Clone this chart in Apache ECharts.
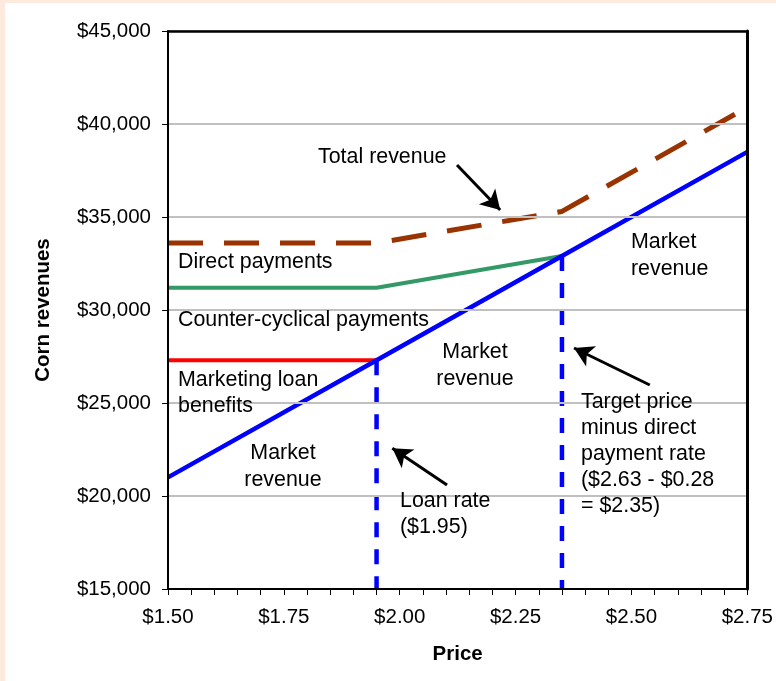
<!DOCTYPE html>
<html>
<head>
<meta charset="utf-8">
<script src="https://cdn.jsdelivr.net/npm/echarts@6/dist/echarts.min.js"></script>
<style>
  html, body { margin: 0; padding: 0; background: #fde9dd; }
  #chart { position: absolute; left: 5px; top: 3px; width: 771px; height: 678px; background: #ffffff; }
</style>
</head>
<body>
<div id="chart"></div>
<script>
// ---- Data (price in $/bu, revenue in $) ----
const marketPrices = [1.50, 1.95, 2.35, 2.75];
const marketRevenue = [21000, 27300, 32900, 38500];

const loanPrices = [1.50, 1.95];
const loanRevenue = [27300, 27300];

const ccpPrices = [1.50, 1.95, 2.35];
const ccpRevenue = [31200, 31200, 32900];

const totalPrices = [1.50, 1.95, 2.35, 2.75];
const totalRevenue = [33600, 33600, 35300, 40900];

const loanRateLine = [[1.95, 27300], [1.95, 15000]];
const targetLine = [[2.35, 32900], [2.35, 15000]];

// arrows: [tail, tip] in data coords
const arrowTotal = [[2.1235, 37795], [2.2167, 35376]];
const arrowLoan = [[2.102, 20591], [1.984, 22565]];
const arrowTarget = [[2.5395, 25968], [2.376, 27957]];

const xTicks = { min: 1.50, max: 2.75, step: 0.25 };
const yTicks = { min: 15000, max: 45000, step: 5000 };

function zip(xs, ys) { return xs.map((x, i) => [x, ys[i]]); }
function money(v) { return '$' + String(Math.round(v)).replace(/\B(?=(\d{3})+(?!\d))/g, ','); }

const FONT = '"Liberation Sans", Arial, sans-serif';
const OX = 5, OY = 3;

const chart = echarts.init(document.getElementById('chart'), null, { renderer: 'canvas' });

function arrowML(a) {
  return [{ coord: a[0] }, { coord: a[1] }];
}

const option = {
  animation: false,
  backgroundColor: '#ffffff',
  grid: { left: 163, right: 26, top: 28, bottom: 92, show: false },
  xAxis: [{
    type: 'value', min: xTicks.min, max: xTicks.max, interval: xTicks.step,
    name: 'Price', nameLocation: 'middle', nameGap: 55,
    nameTextStyle: { fontFamily: FONT, fontSize: 20.5, fontWeight: 'bold', color: '#000' },
    axisLine: { show: true, lineStyle: { color: '#000', width: 2 } },
    axisTick: { show: true, inside: false, length: 6, lineStyle: { color: '#000', width: 1 } },
    minorTick: { show: true, splitNumber: 5, length: 6, lineStyle: { color: '#000', width: 1 } },
    axisLabel: { fontFamily: FONT, fontSize: 20.5, color: '#000', margin: 18, formatter: v => '$' + v.toFixed(2) },
    splitLine: { show: false }, z: 5
  }, {
    type: 'value', position: 'top', min: xTicks.min, max: xTicks.max, interval: xTicks.step,
    axisLine: { show: true, onZero: false, lineStyle: { color: '#000', width: 2.5 } },
    axisTick: { show: false }, axisLabel: { show: false }, splitLine: { show: false }, z: 5
  }],
  yAxis: [{
    type: 'value', min: yTicks.min, max: yTicks.max, interval: yTicks.step,
    name: 'Corn revenues', nameLocation: 'middle', nameGap: 114,
    nameTextStyle: { fontFamily: FONT, fontSize: 20.5, fontWeight: 'bold', color: '#000' },
    axisLine: { show: true, lineStyle: { color: '#000', width: 2 } },
    axisTick: { show: true, inside: false, length: 6, lineStyle: { color: '#000', width: 1 } },
    axisLabel: { fontFamily: FONT, fontSize: 20.5, color: '#000', margin: 17, formatter: v => money(v) },
    splitLine: { show: true, lineStyle: { color: '#c0c0c0', width: 2 } }, z: 5
  }, {
    type: 'value', position: 'right', min: yTicks.min, max: yTicks.max, interval: yTicks.step,
    axisLine: { show: true, onZero: false, lineStyle: { color: '#000', width: 3 } },
    axisTick: { show: false }, axisLabel: { show: false }, splitLine: { show: false }, z: 5
  }],
  series: [
    { name: 'Total revenue', type: 'line', data: zip(totalPrices, totalRevenue), symbol: 'none', z: 3,
      lineStyle: { color: '#993300', width: 5, type: [35, 21] } },
    { name: 'Counter-cyclical', type: 'line', data: zip(ccpPrices, ccpRevenue), symbol: 'none', z: 3,
      lineStyle: { color: '#339966', width: 4 } },
    { name: 'Loan', type: 'line', data: zip(loanPrices, loanRevenue), symbol: 'none', z: 3,
      lineStyle: { color: '#ff0000', width: 4 } },
    { name: 'Loan rate', type: 'line', data: loanRateLine, symbol: 'none', z: 3,
      lineStyle: { color: '#0000ff', width: 4.5, type: [15, 12] } },
    { name: 'Target', type: 'line', data: targetLine, symbol: 'none', z: 3,
      lineStyle: { color: '#0000ff', width: 4.5, type: [15, 12] } },
    { name: 'Market revenue', type: 'line', data: zip(marketPrices, marketRevenue), symbol: 'none', z: 4,
      lineStyle: { color: '#0000ff', width: 4.5 },
      markLine: {
        silent: true, symbol: ['none', 'arrow'], symbolSize: [17, 19],
        label: { show: false },
        lineStyle: { color: '#000', width: 3, type: 'solid' },
        data: [arrowML(arrowTotal), arrowML(arrowLoan), arrowML(arrowTarget)]
      } }
  ]
};
chart.setOption(option);

// annotation texts (page pixel positions of first line's middle)
const notes = [
  { t: 'Total revenue', x: 318, y: 157, a: 'left', lh: 26 },
  { t: 'Direct payments', x: 178, y: 262, a: 'left', lh: 26 },
  { t: 'Counter-cyclical payments', x: 178, y: 320, a: 'left', lh: 26 },
  { t: 'Marketing loan\nbenefits', x: 178, y: 380, a: 'left', lh: 26 },
  { t: 'Market\nrevenue', x: 283, y: 453, a: 'center', lh: 27 },
  { t: 'Market\nrevenue', x: 475, y: 352, a: 'center', lh: 27 },
  { t: 'Market\nrevenue', x: 631, y: 242, a: 'left', lh: 27 },
  { t: 'Target price\nminus direct\npayment rate\n($2.63 - $0.28\n= $2.35)', x: 581, y: 402, a: 'left', lh: 26 },
  { t: 'Loan rate\n($1.95)', x: 400, y: 501, a: 'left', lh: 26 }
];
chart.setOption({
  graphic: notes.map(n => ({
    type: 'text', z: 10,
    x: n.x - OX, y: n.y - OY - n.lh / 2,
    style: { text: n.t, fill: '#000', fontFamily: FONT, fontSize: 21.4, lineHeight: n.lh, align: n.a, verticalAlign: 'top' }
  }))
});
</script>
</body>
</html>
